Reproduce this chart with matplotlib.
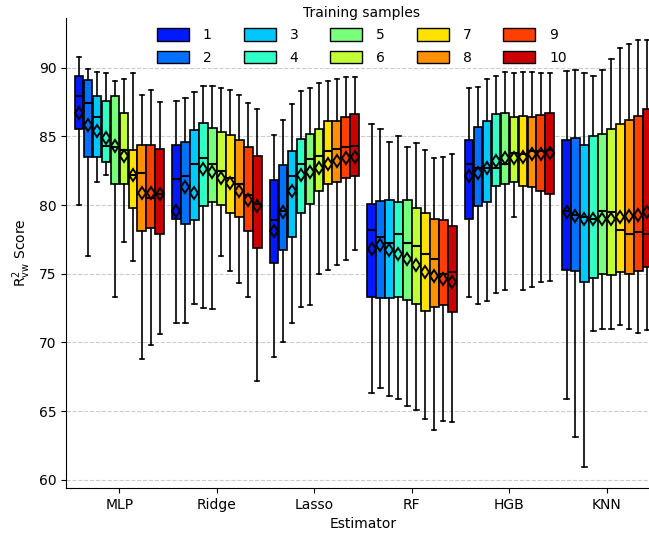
import numpy as np
import matplotlib
matplotlib.use('Agg')
import matplotlib.pyplot as plt
from matplotlib.patches import Patch

# Estimators and training sample counts
estimators = ['MLP', 'Ridge', 'Lasso', 'RF', 'HGB', 'KNN']
samples = [str(i) for i in range(1, 11)]

# Box statistics (one list per estimator, 10 values each)
whislo = {
    'MLP':   [80.0, 76.3, 81.7, 82.2, 73.3, 77.3, 75.9, 68.8, 69.8, 70.6],
    'Ridge': [71.4, 71.4, 72.8, 72.5, 72.4, 76.3, 75.2, 74.3, 73.3, 67.2],
    'Lasso': [68.9, 70.0, 71.4, 72.6, 72.7, 75.0, 75.3, 75.6, 76.0, 76.7],
    'RF':    [66.3, 66.7, 66.1, 65.9, 65.4, 65.1, 64.4, 63.6, 64.3, 64.2],
    'HGB':   [73.3, 72.8, 73.0, 73.6, 73.8, 79.1, 73.8, 74.05, 74.4, 74.5],
    'KNN':   [65.85, 63.1, 60.9, 70.85, 71.0, 71.0, 71.3, 70.95, 70.7, 70.9],
}
q1 = {
    'MLP':   [85.5, 83.5, 83.5, 83.1, 81.5, 81.5, 79.8, 78.1, 78.3, 77.9],
    'Ridge': [79.0, 78.6, 78.9, 79.9, 80.2, 80.0, 79.4, 79.1, 78.1, 76.9],
    'Lasso': [75.8, 76.7, 77.7, 79.4, 80.1, 81.0, 81.5, 81.7, 82.0, 82.1],
    'RF':    [73.3, 73.2, 73.2, 73.3, 73.1, 72.8, 72.3, 72.6, 72.7, 72.2],
    'HGB':   [79.0, 79.9, 80.2, 81.4, 81.5, 81.65, 81.4, 81.3, 81.0, 80.8],
    'KNN':   [75.3, 75.2, 74.4, 74.7, 75.0, 74.9, 75.1, 74.95, 75.2, 75.5],
}
medians = {
    'MLP':   [87.9, 87.4, 86.4, 84.3, 84.2, 84.0, 82.2, 82.3, 80.5, 80.8],
    'Ridge': [81.9, 82.1, 83.0, 83.4, 83.0, 82.5, 82.0, 81.5, 80.7, 80.1],
    'Lasso': [78.9, 79.6, 82.1, 83.0, 83.35, 83.6, 83.9, 84.05, 84.2, 84.3],
    'RF':    [78.2, 77.7, 77.2, 77.9, 77.2, 77.0, 76.4, 76.1, 74.95, 75.1],
    'HGB':   [83.0, 82.7, 82.7, 82.7, 83.0, 83.8, 83.7, 83.9, 83.95, 84.0],
    'KNN':   [79.6, 79.3, 79.1, 79.0, 79.6, 79.5, 78.2, 77.9, 78.0, 77.9],
}
q3 = {
    'MLP':   [89.37, 89.07, 87.9, 87.6, 87.9, 86.7, 84.0, 84.4, 84.4, 84.1],
    'Ridge': [84.37, 84.56, 85.46, 86.0, 85.6, 85.3, 85.1, 84.7, 84.2, 83.6],
    'Lasso': [81.8, 82.9, 83.95, 84.8, 85.2, 85.5, 86.1, 86.1, 86.4, 86.6],
    'RF':    [80.1, 80.3, 80.4, 80.2, 80.4, 79.8, 79.4, 79.0, 78.9, 78.5],
    'HGB':   [84.7, 85.7, 86.1, 86.6, 86.7, 86.4, 86.5, 86.4, 86.55, 86.7],
    'KNN':   [84.7, 84.9, 84.4, 85.0, 85.2, 85.5, 85.9, 86.2, 86.5, 87.0],
}
whishi = {
    'MLP':   [90.8, 89.9, 89.7, 89.6, 89.0, 89.2, 89.6, 88.0, 88.4, 87.5],
    'Ridge': [87.6, 87.8, 88.25, 88.7, 88.7, 88.5, 88.4, 88.0, 87.45, 87.0],
    'Lasso': [85.1, 86.2, 87.35, 88.3, 88.5, 88.9, 89.05, 89.15, 89.3, 89.35],
    'RF':    [85.9, 85.5, 84.56, 85.05, 84.2, 84.5, 84.0, 83.45, 83.5, 83.7],
    'HGB':   [88.5, 88.6, 89.15, 89.4, 89.7, 89.6, 89.7, 89.7, 89.6, 89.6],
    'KNN':   [89.75, 89.8, 89.6, 89.4, 89.8, 90.6, 91.4, 91.7, 92.0, 92.0],
}
means = {
    'MLP':   [86.7, 85.8, 85.4, 84.9, 84.3, 83.6, 82.2, 80.9, 80.9, 80.8],
    'Ridge': [79.6, 81.3, 80.9, 82.6, 82.4, 82.0, 81.6, 81.0, 80.4, 79.9],
    'Lasso': [78.1, 79.5, 81.0, 82.2, 82.4, 82.7, 83.0, 83.2, 83.4, 83.5],
    'RF':    [76.8, 77.1, 76.7, 76.4, 76.1, 75.6, 75.1, 74.8, 74.6, 74.4],
    'HGB':   [82.1, 82.3, 82.7, 83.2, 83.45, 83.45, 83.5, 83.7, 83.7, 83.8],
    'KNN':   [79.5, 79.2, 79.0, 79.0, 79.0, 79.0, 79.1, 79.2, 79.3, 79.5],
}

colors = plt.cm.jet(np.linspace(0.15, 0.93, len(samples)))

fig = plt.figure(figsize=(6.49, 5.4), dpi=100)
ax = fig.add_axes([0.102, 0.0963, 0.915, 0.87])

step = 0.092
width = 0.088
lw = 1.2
for s, sample in enumerate(samples):
    stats = []
    positions = []
    for e, est in enumerate(estimators):
        stats.append({
            'med': medians[est][s], 'q1': q1[est][s], 'q3': q3[est][s],
            'whislo': whislo[est][s], 'whishi': whishi[est][s],
            'mean': means[est][s], 'fliers': [],
        })
        positions.append(e + (s - 4.5) * step)
    ax.bxp(stats, positions=positions, widths=width, patch_artist=True,
           showmeans=True, showfliers=False,
           boxprops=dict(facecolor=colors[s], edgecolor='black', linewidth=lw),
           medianprops=dict(color='black', linewidth=1.5),
           whiskerprops=dict(color='black', linewidth=lw),
           capprops=dict(color='black', linewidth=lw),
           meanprops=dict(marker='d', markerfacecolor='none',
                          markeredgecolor='black', markersize=6.5,
                          markeredgewidth=1.4))

ax.set_xticks(range(len(estimators)))
ax.set_xticklabels(estimators, fontsize=10)
ax.set_xlim(-0.545, 5.545)
ax.set_ylim(59.4, 93.6)
ax.set_yticks([60, 65, 70, 75, 80, 85, 90])
ax.tick_params(axis='y', labelsize=10)
ax.yaxis.grid(True, linestyle='--', color='#cccccc', linewidth=0.8)
ax.set_axisbelow(True)
ax.spines['top'].set_visible(False)
ax.spines['right'].set_visible(False)
ax.set_xlabel('Estimator', fontsize=10)
ax.set_ylabel(r'R$^2_{\mathrm{vw}}$ Score', fontsize=10)

handles = [Patch(facecolor=colors[i], edgecolor='black', label=samples[i])
           for i in range(len(samples))]
leg = ax.legend(handles=handles, title='Training samples', ncol=5,
                loc='upper center', bbox_to_anchor=(0.498, 1.053),
                frameon=False, fontsize=10, title_fontsize=10,
                handlelength=2.3, handleheight=1.0, columnspacing=2.3,
                handletextpad=1.0, labelspacing=0.62)
leg.set_zorder(10)

fig.savefig('out.png', dpi=100)
